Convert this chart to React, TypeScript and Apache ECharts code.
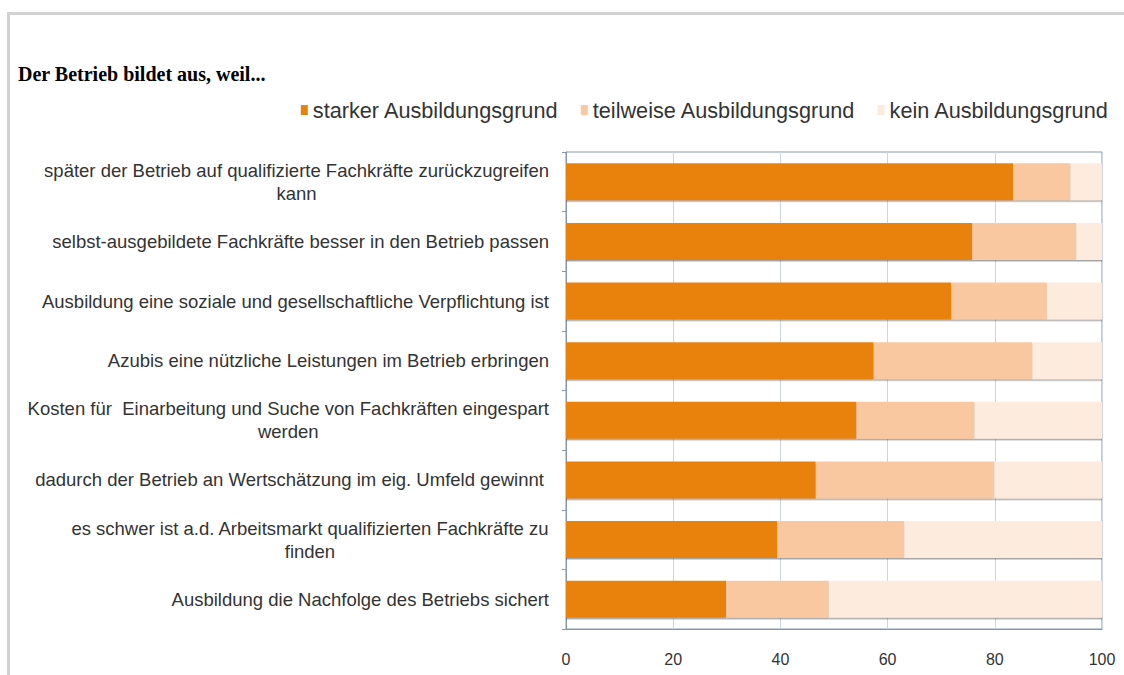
import React, { useEffect, useRef } from "react";
import * as echarts from "echarts";

const titleText = "Der Betrieb bildet aus, weil...";
const seriesNames = ["starker Ausbildungsgrund", "teilweise Ausbildungsgrund", "kein Ausbildungsgrund"];
const categories = [
  "später der Betrieb auf qualifizierte Fachkräfte zurückzugreifen\nkann",
  "selbst-ausgebildete Fachkräfte besser in den Betrieb passen",
  "Ausbildung eine soziale und gesellschaftliche Verpflichtung ist",
  "Azubis eine nützliche Leistungen im Betrieb erbringen",
  "Kosten für  Einarbeitung und Suche von Fachkräften eingespart\nwerden",
  "dadurch der Betrieb an Wertschätzung im eig. Umfeld gewinnt ",
  "es schwer ist a.d. Arbeitsmarkt qualifizierten Fachkräfte zu\nfinden",
  "Ausbildung die Nachfolge des Betriebs sichert",
];
const starker = [83.4, 75.8, 71.9, 57.4, 54.2, 46.6, 39.4, 29.9];
const teilweise = [10.7, 19.4, 17.8, 29.6, 22.0, 33.3, 23.7, 19.1];
const kein = [5.9, 4.8, 10.3, 13.0, 23.8, 20.1, 36.9, 51.0];
const colors = ["#E8820E", "#F9C8A0", "#FDEBDE"];

export default function App() {
  const ref = useRef<HTMLDivElement>(null);
  useEffect(() => {
    if (!ref.current) return;
    const chart = echarts.init(ref.current, undefined, { renderer: "svg" });
    const font = "Liberation Sans, Arial, sans-serif";
    const barStyle = (c: string) => ({
      color: c,
      shadowColor: "rgba(60,60,60,0.45)",
      shadowOffsetY: 1.5,
      shadowBlur: 1,
    });
    chart.setOption({
      animation: false,
      backgroundColor: "#ffffff",
      title: {
        text: titleText,
        left: 13,
        top: 59,
        textStyle: {
          fontFamily: "Liberation Serif, Times New Roman, serif",
          fontWeight: "bold",
          fontSize: 20,
          color: "#000",
        },
      },
      legend: {
        data: seriesNames,
        right: 10,
        top: 94,
        itemWidth: 7,
        itemHeight: 10,
        itemGap: 22,
        icon: "rect",
        textStyle: { fontFamily: font, fontSize: 21.7, color: "#333" },
      },
      graphic: [
        { type: "rect", shape: { x: 7, y: 12, width: 1117, height: 3 }, style: { fill: "#d2d2d2" } },
        { type: "rect", shape: { x: 7, y: 12, width: 3, height: 663 }, style: { fill: "#d2d2d2" } },
      ],
      grid: {
        left: 566,
        right: 22,
        top: 152,
        bottom: 46,
        show: true,
        borderColor: "#8797ad",
        borderWidth: 1,
        backgroundColor: "transparent",
      },
      xAxis: {
        type: "value",
        min: 0,
        max: 100,
        interval: 20,
        axisLine: { show: true, lineStyle: { color: "#8797ad" } },
        axisTick: { show: false },
        splitLine: { show: true, lineStyle: { color: "#cdd5e0" } },
        axisLabel: { fontFamily: font, fontSize: 16, color: "#333", margin: 22 },
      },
      yAxis: {
        type: "category",
        data: categories,
        inverse: true,
        axisLine: { show: true, lineStyle: { color: "#8797ad" } },
        axisTick: { show: true, length: 4, lineStyle: { color: "#8797ad" } },
        axisLabel: {
          margin: 17,
          align: "right",
          formatter: (v: string) =>
            v
              .split("\n")
              .map((l) => `{c|${l}}`)
              .join("\n"),
          rich: {
            c: { align: "center", fontFamily: font, fontSize: 18.5, color: "#333", lineHeight: 23 },
          },
        },
      },
      series: [
        { name: seriesNames[0], type: "bar", stack: "a", data: starker, barCategoryGap: "38%", itemStyle: barStyle(colors[0]) },
        { name: seriesNames[1], type: "bar", stack: "a", data: teilweise, itemStyle: barStyle(colors[1]) },
        { name: seriesNames[2], type: "bar", stack: "a", data: kein, itemStyle: barStyle(colors[2]) },
      ],
    });
    return () => chart.dispose();
  }, []);
  return (
    <div
      ref={ref}
      style={{ position: "absolute", left: 0, top: 0, width: 1124, height: 675 }}
    />
  );
}
